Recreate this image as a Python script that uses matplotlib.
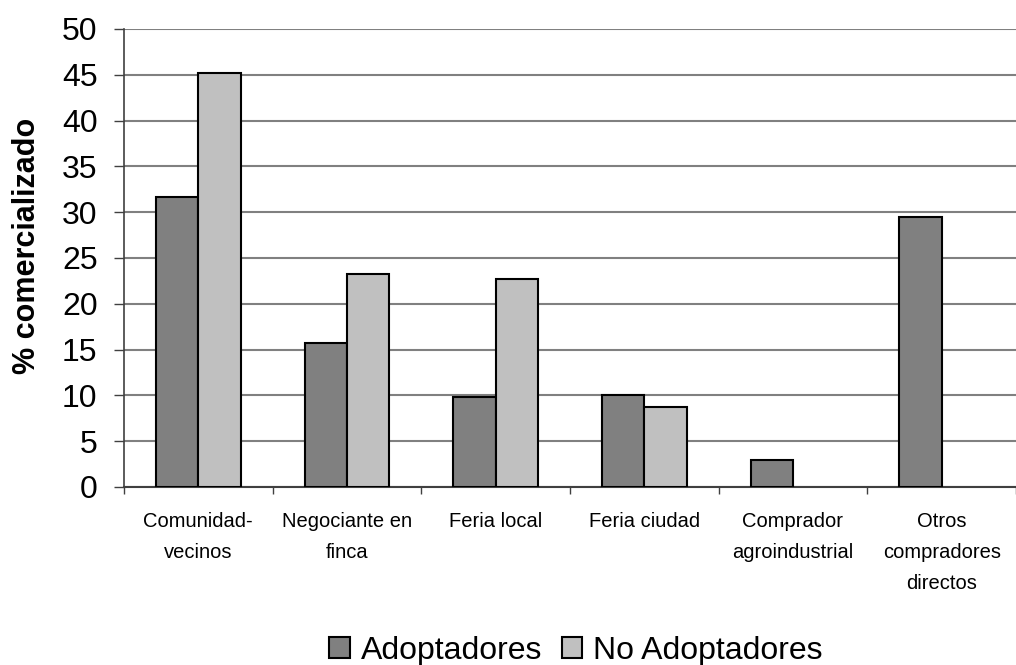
import matplotlib
matplotlib.use("Agg")
import matplotlib.pyplot as plt
import numpy as np

categories = ["Comunidad-\nvecinos", "Negociante en\nfinca", "Feria local", "Feria ciudad",
              "Comprador\nagroindustrial", "Otros\ncompradores\ndirectos"]
adoptadores = [31.7, 15.7, 9.8, 10.0, 3.0, 29.5]
no_adoptadores = [45.2, 23.3, 22.7, 8.7, 0.0, 0.0]
series_names = ["Adoptadores", "No Adoptadores"]
yticks = list(range(0, 51, 5))

plt.rcParams['font.family'] = ['Liberation Sans', 'DejaVu Sans']

fig = plt.figure(figsize=(10.16, 6.65), dpi=100)
ax = fig.add_axes([0.122, 0.2677, 0.878, 0.6887])

x = np.arange(len(categories))
w = 0.285
ax.bar(x - w/2, adoptadores, w, color="#808080", edgecolor="black", linewidth=1.5,
       label=series_names[0], zorder=3)
nb = ax.bar(x + w/2, no_adoptadores, w, color="#c0c0c0", edgecolor="black", linewidth=1.5,
            label=series_names[1], zorder=3)
for rect, v in zip(nb, no_adoptadores):
    if v == 0:
        rect.set_visible(False)

ax.set_ylim(0, 50)
ax.set_yticks(yticks)
ax.set_xlim(-0.5, (1016 - 124) / 151.5 - 0.5)
ax.yaxis.grid(True, color="#808080", linewidth=1.5, zorder=0)
ax.set_axisbelow(True)

for s in ["top", "right"]:
    ax.spines[s].set_visible(False)
ax.spines["left"].set_color("#404040")
ax.spines["bottom"].set_color("#404040")
ax.spines["left"].set_linewidth(1.2)
ax.spines["bottom"].set_linewidth(1.5)

ax.set_xticks(np.arange(len(categories) + 1) - 0.5, minor=False)
ax.set_xticklabels([])
ax.tick_params(axis="x", which="major", length=5, direction="out", color="#404040", width=1)
ax.set_xticks(x, minor=True)
ax.set_xticklabels(categories, minor=True, fontsize=14.5, linespacing=1.8)
ax.tick_params(axis="x", which="minor", length=0, pad=18)
ax.tick_params(axis="y", labelsize=23, length=7, color="#404040", direction="out", width=1,
               pad=12)

fig.text(27 / 1016, 1 - 246 / 665, "% comercializado", rotation=90, fontsize=22,
         fontweight="bold", ha="center", va="center")

ax.legend(loc="center", bbox_to_anchor=(576 / 1016, 1 - 651 / 665), bbox_transform=fig.transFigure,
          ncol=2, frameon=False, fontsize=23, handlelength=0.65, handleheight=0.65,
          handletextpad=0.35, columnspacing=0.6)

fig.savefig("out.png", dpi=100)
